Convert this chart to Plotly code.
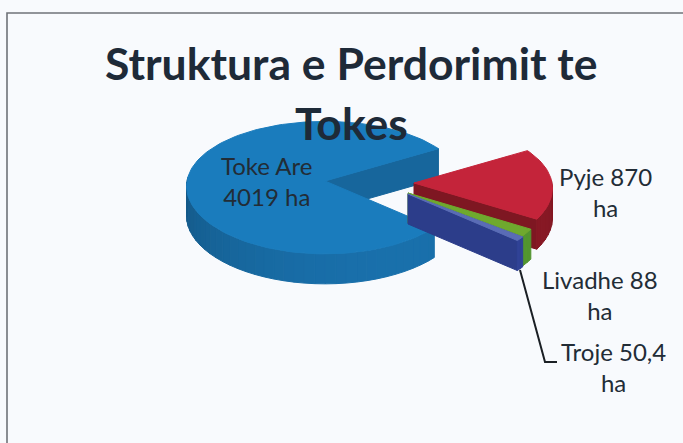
import math
import plotly.graph_objects as go

categories = ["Toke Are", "Pyje", "Livadhe", "Troje"]
values = [4019, 870, 88, 50.4]
label_lines = ["Toke Are<br>4019 ha", "Pyje 870<br>ha", "Livadhe 88<br>ha", "Troje 50,4<br>ha"]
explode_x = [-28, 61, 55, 55]
explode_y = [0, 2, 12, 13]
top_colors = ["#1a7cbd", "#c4243a", "#6fa92e", "#5a6cb6"]
wall_colors = ["#17669c", "#7e1722", "#4c8a2c", "#2c3d8a"]
draw_order = [0, 1, 2, 3]

W, H = 683, 443
CX, CY = 353, 181
RX, TILT, DEPTH, PERSP, PERSP_X = 138, 0.48, 30, 0.10, 0.08
START = -31.0   # screen angle, clockwise, where the slice after the first begins
BG = "#f8fafd"


def proj(theta, r, ox, oy, drop=0.0):
    t = math.radians(theta)
    s = math.sin(t)
    return (ox + r * RX * math.cos(t) * (1 + PERSP_X * s),
            oy + r * RX * TILT * s * (1 + PERSP * s) + drop)


def mix(c, f):
    c = c.lstrip("#")
    rgb = [int(c[i:i + 2], 16) for i in (0, 2, 4)]
    return "rgb(%d,%d,%d)" % tuple(min(255, int(v * f)) for v in rgb)


total = sum(values)
spans = [v / total * 360 for v in values]
# clockwise from START: Pyje, Livadhe, Troje, then Toke Are
order = [1, 2, 3, 0]
angles = {}
a = START
for i in order:
    angles[i] = (a, a + spans[i])
    a += spans[i]

fig = go.Figure()


def poly(pts, color, name):
    fig.add_trace(go.Scatter(
        x=[p[0] for p in pts] + [pts[0][0]],
        y=[p[1] for p in pts] + [pts[0][1]],
        mode="lines", fill="toself", fillcolor=color,
        line=dict(color=color, width=1), hoverinfo="skip",
        showlegend=False, name=name))


for i in draw_order:
    a0, a1 = angles[i]
    ox = CX + explode_x[i]
    oy = CY + explode_y[i]
    name = categories[i]
    # radial walls that face the viewer
    if math.cos(math.radians(a1)) > 0:
        poly([proj(a1, 0, ox, oy), proj(a1, 1, ox, oy),
              proj(a1, 1, ox, oy, DEPTH), proj(a1, 0, ox, oy, DEPTH)],
             wall_colors[i], name)
    if -math.cos(math.radians(a0)) > 0:
        poly([proj(a0, 0, ox, oy), proj(a0, 1, ox, oy),
              proj(a0, 1, ox, oy, DEPTH), proj(a0, 0, ox, oy, DEPTH)],
             wall_colors[i], name)
    # outer wall, in shaded bands, only the part on the near side
    n = max(2, int((a1 - a0) / 4))
    for k in range(n):
        t0 = a0 + (a1 - a0) * k / n
        t1 = a0 + (a1 - a0) * (k + 1) / n
        tm = math.radians((t0 + t1) / 2)
        if math.sin(tm) <= -0.02:
            continue
        shade = 0.95 + 0.15 * math.cos(tm - math.radians(60))
        poly([proj(t0, 1, ox, oy), proj(t1, 1, ox, oy),
              proj(t1, 1, ox, oy, DEPTH), proj(t0, 1, ox, oy, DEPTH)],
             mix(wall_colors[i], shade), name)
    # top surface
    m = max(2, int((a1 - a0) / 2))
    pts = [proj(a0, 0, ox, oy)] + [proj(a0 + (a1 - a0) * k / m, 1, ox, oy) for k in range(m + 1)]
    poly(pts, top_colors[i], name)

LABEL = "#222c36"
FONT = "Lato"
annos = [
    dict(x=351, y=62, text="Struktura e Perdorimit te", size=44.5, bold=True),
    dict(x=351, y=122, text="Tokes", size=44.5, bold=True),
    dict(x=267, y=181, text=label_lines[0], size=24, bold=False),
    dict(x=605, y=192, text=label_lines[1], size=24, bold=False),
    dict(x=600, y=295, text=label_lines[2], size=24, bold=False),
    dict(x=613, y=367, text=label_lines[3], size=24, bold=False),
]
annotations = []
for an in annos:
    txt = "<b>%s</b>" % an["text"] if an["bold"] else an["text"]
    annotations.append(dict(
        x=an["x"], y=an["y"], xref="x", yref="y", text=txt, showarrow=False,
        align="center", xanchor="center", yanchor="middle",
        font=dict(family=FONT, size=an["size"], color="#1e2a38" if an["bold"] else LABEL)))

shapes = [
    dict(type="rect", x0=7, y0=13, x1=700, y1=460, xref="x", yref="y", layer="below",
         line=dict(color="#6f7378", width=1.6), fillcolor="rgba(0,0,0,0)"),
    dict(type="path", path="M 520 270 L 545 362 L 557 362", xref="x", yref="y",
         line=dict(color="#1a1f24", width=2)),
]

fig.update_layout(
    width=W, height=H, margin=dict(l=0, r=0, t=0, b=0),
    paper_bgcolor=BG, plot_bgcolor=BG, showlegend=False,
    xaxis=dict(range=[0, W], visible=False, fixedrange=True),
    yaxis=dict(range=[H, 0], visible=False, fixedrange=True),
    annotations=annotations, shapes=shapes,
)
fig.write_html("out.html", config=dict(displayModeBar=False),
               post_script="document.body.style.margin='0';document.documentElement.style.overflow='hidden';document.body.style.background='%s';" % BG)
